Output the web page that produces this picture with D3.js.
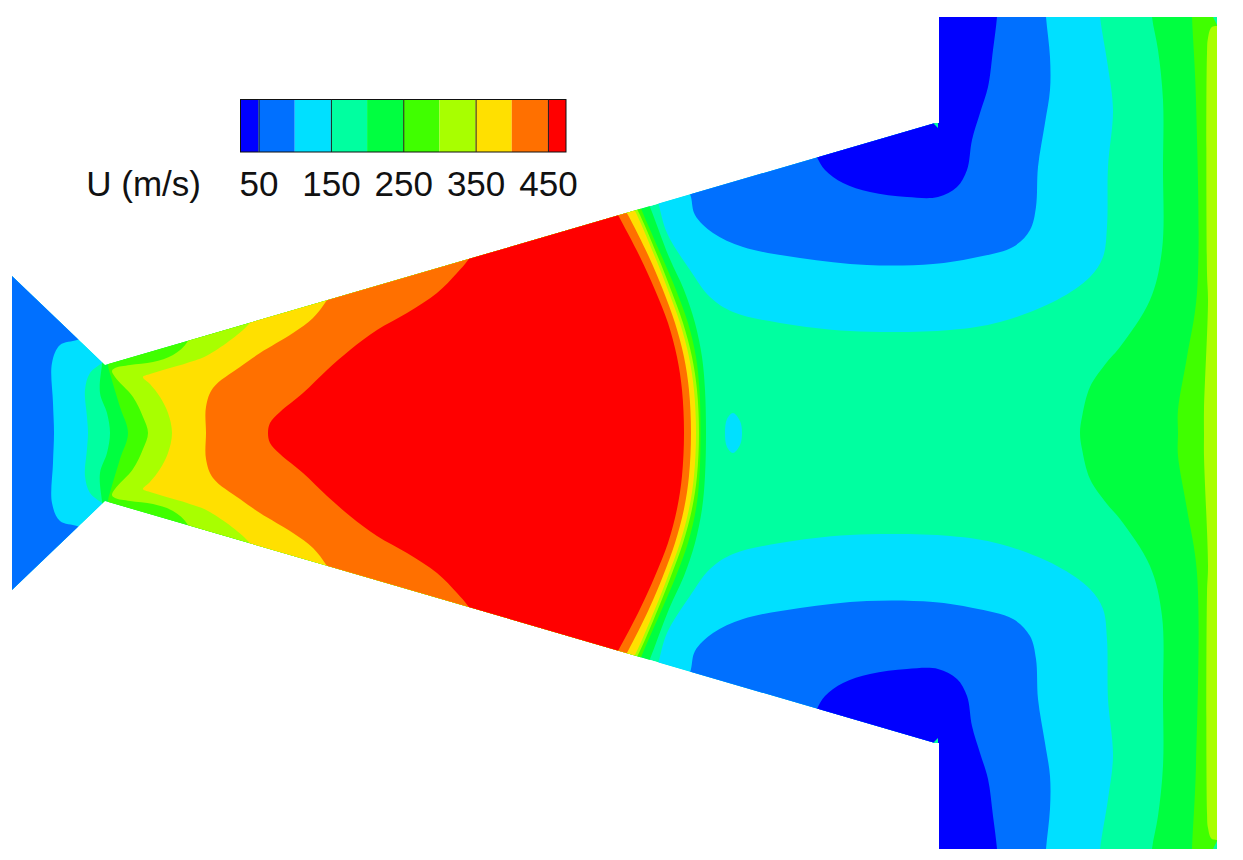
<!DOCTYPE html>
<html>
<head>
<meta charset="utf-8">
<script src="https://cdn.jsdelivr.net/npm/d3@7"></script>
<style>
html,body{margin:0;padding:0;background:#fff}
svg{display:block}
text{font-family:"Liberation Sans",Arial,sans-serif}
</style>
</head>
<body>
<svg id="chart" width="1243" height="860"></svg>
<script>
// Legend
const levels = [25,50,100,150,200,250,300,350,400,450,475];
const bandColors = ["#0000FF","#0070FF","#00E0FF","#00FFA0","#00FF40","#40FF00","#A8FF00","#FFE000","#FF7000","#FF0000"];
const legendTicks = [50,150,250,350,450];
const legendTitle = "U (m/s)";

// Duct outline: upper half, [axial position, distance from axis]
const ductUpper = [[12,157],[105,68],[935,310],[939,310],[939,416],[1217,416]];

// Contour edges, upper half, [axial position, distance from axis]
const inletEdge100 = [[86,200],[86,97],[77,93],[60,88],[52,70],[53,30],[54,0]];
const inletEdge150 = [[110,200],[108,75],[102,70],[90,60],[85,43],[87,16],[88,0]];
const nozzleEdge200 = [[104,80],[102,68],[100,40],[107,20],[110,0]];
const nozzleEdge250 = [[108,90],[108,68],[111,56],[120,26],[128,0]];
const nozzleEdge300 = [[200,130],[188,92],[173,78],[153,71],[130,68],[115,65],[112,62],[115,56],[133,36],[143,16],[148,0]];
const nozzleEdge350 = [[258,125],[248,108],[208,78],[187,70],[150,59],[143,56],[150,49],[160,36],[168,20],[172,0]];
const nozzleEdge400 = [[340,155],[327,133],[313,115],[293,100],[260,80],[240,66],[213,45],[206,26],[206,0]];
const nozzleEdge450 = [[475,185],[468,173],[457,160],[437,140],[407,120],[377,103],[350,83],[327,63],[303,40],[280,21],[270,10],[268,0]];
const shockEdge200 = [[642,245],[650,226],[669,176],[684,143],[695,110],[702,76],[705,43],[706,0]];
const shockEdge250 = [[635,240],[642,222],[662,176],[676,143],[688,110],[696,76],[699.5,43],[700.5,0]];
const shockEdge300 = [[630,235],[638,222],[658,176],[671,143],[683,110],[692,76],[697,43],[699,0]];
const shockEdge350 = [[627,235],[635,222],[655,176],[668,143],[680,110],[689,76],[694,43],[696,0]];
const shockEdge400 = [[620,232],[628,218],[649,176],[663,143],[675,110],[684,76],[689,43],[691,0]];
const shockEdge450 = [[610,232],[618,218],[640,176],[655,143],[668,110],[677,76],[682,43],[684,0]];
const cornerEdge150 = [[652,250],[658,231],[667,200],[690,163],[710,136],[733,121],[780,110],[850,102],[950,103],[1000,111],[1057,133],[1090,156],[1103,176],[1107,206],[1108,266],[1113,323],[1108,366],[1100,416],[1097,450]];
const cornerEdge100 = [[686,255],[691,236],[695,218],[713,200],[743,186],[800,175],[867,168],[933,169],[973,175],[1013,186],[1030,203],[1036,226],[1038,266],[1045,310],[1050,343],[1050,376],[1046,416],[1044,450]];
const cornerEdge50 = [[812,290],[817,276],[825,263],[843,250],[870,241],[907,236],[938,236],[957,246],[967,263],[972,293],[980,320],[988,346],[993,383],[997,416],[999,450]];
const outletEdge200 = [[1150,450],[1152,416],[1158,383],[1163,333],[1163,266],[1162,183],[1150,133],[1120,86],[1107,71],[1090,46],[1082,16],[1080,0]];
const outletEdge250 = [[1191,450],[1192,416],[1196,333],[1197,140],[1187,76],[1178,23],[1178,0]];
const outletEdge300 = [[1225,406],[1212,406],[1208,395],[1207,380],[1207,160],[1208,133],[1204,23],[1204,0]];
const pocket150 = [[725,0],[727,14],[733,20],[740,12],[742,0]];
const wallTip = [[933,310],[938,312],[938,305]];
const exitTip = [[1213,416],[1217,416],[1217,408]];

const W = 1243, H = 860;
const x = d3.scaleLinear().domain([0,W]).range([0,W]);
const y = d3.scaleLinear().domain([433,-427]).range([0,H]);

const svg = d3.select("#chart");
const smooth = d3.line().x(d=>x(d[0])).y(d=>y(d[1])).curve(d3.curveCatmullRom.alpha(0.5));
const straight = d3.line().x(d=>x(d[0])).y(d=>y(d[1]));
const loop = d3.line().x(d=>x(d[0])).y(d=>y(d[1])).curve(d3.curveCatmullRomClosed.alpha(0.5));
const flip = e => e.map(([a,b])=>[a,-b]);
const both = e => e.concat(flip(e).reverse().slice(1));
const asLine = s => s.replace(/^M/,"L");

// between two edges that both cross the axis
const band = (a,b) => smooth(both(a)) + asLine(smooth(both(b).reverse())) + "Z";
// everything beyond an edge that crosses the axis, out to a far axial position
const beyond = (e,far) => {
  const top = e[0][1];
  return smooth(both(e)) + asLine(straight([[far,-top],[far,top]])) + "Z";
};
// everything further from the axis than an edge, on one side
const corner = (e,sign) => {
  const pts = sign>0 ? e : flip(e), cap = sign*500;
  return smooth(pts) + asLine(straight([[pts[pts.length-1][0],cap],[pts[0][0],cap]])) + "Z";
};
const color = v => bandColors[d3.bisectRight(levels,v)-1];

const defs = svg.append("defs");
defs.append("clipPath").attr("id","duct").append("path")
  .attr("d", straight(ductUpper.concat(flip(ductUpper).reverse())) + "Z");

const field = svg.append("g").attr("clip-path","url(#duct)");

const regions = [
  {v:175, d:straight(ductUpper.concat(flip(ductUpper).reverse()))+"Z"},
  {v:125, d:beyond(inletEdge150,0)},
  {v:75,  d:beyond(inletEdge100,0)},
  {v:125, d:corner(cornerEdge150,1)},
  {v:125, d:corner(cornerEdge150,-1)},
  {v:75,  d:corner(cornerEdge100,1)},
  {v:75,  d:corner(cornerEdge100,-1)},
  {v:40,  d:corner(cornerEdge50,1)},
  {v:40,  d:corner(cornerEdge50,-1)},
  {v:225, d:beyond(outletEdge200,1300)},
  {v:275, d:beyond(outletEdge250,1300)},
  {v:325, d:beyond(outletEdge300,1300)},
  {v:125, d:loop(both(pocket150).slice(0,-1))},
  {v:225, d:band(nozzleEdge200,shockEdge200)},
  {v:275, d:band(nozzleEdge250,shockEdge250)},
  {v:325, d:band(nozzleEdge300,shockEdge300)},
  {v:375, d:band(nozzleEdge350,shockEdge350)},
  {v:425, d:band(nozzleEdge400,shockEdge400)},
  {v:460, d:band(nozzleEdge450,shockEdge450)},
  {v:175, d:straight(wallTip)+"Z"},
  {v:175, d:straight(flip(wallTip))+"Z"},
  {v:175, d:straight(exitTip)+"Z"},
  {v:175, d:straight(flip(exitTip))+"Z"}
];
field.selectAll("path").data(regions).join("path")
  .attr("d",d=>d.d).attr("fill",d=>color(d.v));

// Legend
const lx = d3.scaleLinear().domain([25,475]).range([240.5,566]);
const barTop = 99.5, barH = 52.5;
const legend = svg.append("g");
legend.selectAll("rect.b").data(d3.pairs(levels)).join("rect").attr("class","b")
  .attr("x",d=>lx(d[0])).attr("y",barTop)
  .attr("width",d=>lx(d[1])-lx(d[0])).attr("height",barH)
  .attr("fill",d=>color(d[0]));
legend.append("rect").attr("x",lx(25)).attr("y",barTop)
  .attr("width",lx(475)-lx(25)).attr("height",barH)
  .attr("fill","none").attr("stroke","#111").attr("stroke-width",1);
const ax = legend.append("g").attr("transform",`translate(0,${barTop+barH})`)
  .call(d3.axisBottom(lx).tickValues(legendTicks).tickSize(-barH).tickSizeOuter(0).tickPadding(19));
ax.select(".domain").remove();
ax.selectAll("line").attr("stroke","#222").attr("stroke-width",1);
ax.selectAll("text").attr("fill","#111").style("font-family",'"Liberation Sans",Arial,sans-serif').style("font-size","35px");
legend.append("text").attr("x",201).attr("y",196).attr("text-anchor","end")
  .attr("fill","#111").style("font-size","35px").text(legendTitle);
</script>
</body>
</html>
